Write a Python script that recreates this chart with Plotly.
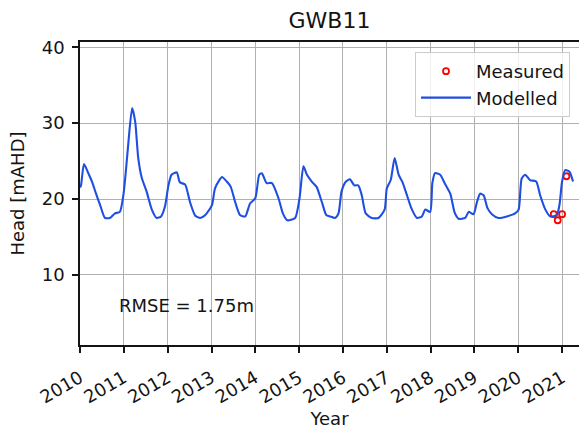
import pandas as pd
import plotly.graph_objects as go

# Modelled head (decimal year, mAHD)
model_year = [2010.000, 2010.023, 2010.091, 2010.19, 2010.28, 2010.36, 2010.46, 2010.57, 2010.68, 2010.80,
              2010.91, 2010.99, 2011.04, 2011.10, 2011.19, 2011.26, 2011.33, 2011.41, 2011.52, 2011.64,
              2011.75, 2011.85, 2011.94, 2012.02, 2012.09, 2012.21, 2012.28, 2012.40, 2012.51, 2012.63,
              2012.74, 2012.82, 2012.89, 2013.01, 2013.08, 2013.18, 2013.24, 2013.35, 2013.44, 2013.54,
              2013.65, 2013.77, 2013.88, 2014.00, 2014.09, 2014.15, 2014.26, 2014.38, 2014.53, 2014.63,
              2014.73, 2014.91, 2015.01, 2015.10, 2015.18, 2015.29, 2015.40, 2015.52, 2015.62, 2015.71,
              2015.82, 2015.90, 2015.97, 2016.07, 2016.16, 2016.26, 2016.35, 2016.43, 2016.52, 2016.66,
              2016.81, 2016.95, 2017.00, 2017.09, 2017.18, 2017.27, 2017.36, 2017.46, 2017.56, 2017.69,
              2017.80, 2017.88, 2017.99, 2018.04, 2018.10, 2018.22, 2018.32, 2018.45, 2018.55, 2018.64,
              2018.79, 2018.87, 2018.98, 2019.06, 2019.13, 2019.21, 2019.30, 2019.40, 2019.55, 2019.74,
              2019.93, 2020.01, 2020.08, 2020.16, 2020.27, 2020.41, 2020.50, 2020.62, 2020.73, 2020.88,
              2020.94, 2021.00, 2021.07, 2021.17, 2021.25]
model_head = [21.5, 21.8, 24.6, 23.4, 22.2, 20.8, 19.2, 17.5, 17.5, 18.1,
              18.3, 20.5, 23.2, 27.1, 32.0, 30.2, 25.4, 22.8, 21.0, 18.6,
              17.5, 17.7, 19.0, 21.8, 23.2, 23.5, 22.2, 21.9, 19.6, 17.8,
              17.5, 17.7, 18.1, 19.2, 21.4, 22.5, 22.9, 22.3, 21.6, 19.6,
              17.9, 17.7, 19.4, 20.1, 23.2, 23.4, 22.1, 22.1, 20.1, 18.1,
              17.2, 17.5, 20.1, 24.3, 23.2, 22.3, 21.6, 19.6, 17.9, 17.7,
              17.5, 18.1, 21.0, 22.3, 22.6, 21.8, 21.8, 20.5, 18.1, 17.5,
              17.5, 18.6, 21.4, 22.5, 25.4, 23.2, 22.2, 20.5, 18.8, 17.5,
              17.7, 18.6, 18.3, 22.1, 23.4, 23.2, 22.1, 20.7, 18.2, 17.4,
              17.5, 18.3, 18.0, 19.6, 20.7, 20.5, 18.8, 18.0, 17.5, 17.7,
              18.1, 18.6, 22.7, 23.2, 22.5, 22.3, 20.5, 18.6, 17.7, 17.9,
              19.2, 22.3, 23.8, 23.6, 22.3]

# Measured head
meas_year = [2020.81, 2020.90, 2021.00, 2021.10]
meas_head = [18.0, 17.2, 18.0, 23.0]

tick_years = list(range(2010, 2022))
tick_labels = [str(y) for y in tick_years]
rmse_text = "RMSE = 1.75m"


def to_date(years):
    out = []
    for y in years:
        yi = int(y)
        start = pd.Timestamp(year=yi, month=1, day=1)
        days = (pd.Timestamp(year=yi + 1, month=1, day=1) - start).days
        out.append(start + pd.Timedelta(days=(y - yi) * days))
    return out


FONT = "DejaVu Sans"
TXT = "#141414"
fig = go.Figure()
fig.add_trace(go.Scatter(x=to_date(meas_year), y=meas_head, mode="markers", name="Measured",
                         marker=dict(symbol="circle-open", color="#ff0000", size=6,
                                     line=dict(width=1.8, color="#ff0000"))))
fig.add_trace(go.Scatter(x=to_date(model_year), y=model_head, mode="lines", name="Modelled",
                         line=dict(color="#1f4fe0", width=2.1, shape="spline", smoothing=0.6)))

fig.add_annotation(text=rmse_text, xref="paper", yref="paper", x=0.214, y=0.132,
                   xanchor="center", yanchor="middle", showarrow=False,
                   font=dict(family=FONT, size=18, color=TXT))

fig.update_layout(
    width=579, height=432,
    margin=dict(l=80, r=0, t=42, b=87),
    paper_bgcolor="white", plot_bgcolor="white",
    font=dict(family=FONT, size=18, color=TXT),
    title=dict(text="GWB11", x=0.5, xref="paper", xanchor="center", y=1 - 20 / 432, yanchor="middle",
               yref="container", font=dict(family=FONT, size=22, color=TXT)),
    showlegend=True,
    legend=dict(x=0.982, y=0.967, xanchor="right", yanchor="top",
                bgcolor="rgba(255,255,255,0.8)", bordercolor="#cccccc", borderwidth=1,
                font=dict(family=FONT, size=18, color=TXT), itemwidth=50),
)
fig.update_xaxes(
    type="date", automargin=False,
    range=[pd.Timestamp("2010-01-01"), pd.Timestamp("2021-05-22")],
    tickmode="array", tickvals=[pd.Timestamp(year=y, month=1, day=1) for y in tick_years],
    ticktext=tick_labels, tickangle=-30, ticklabelstandoff=8,
    showgrid=True, gridcolor="#b0b0b0", gridwidth=1.3,
    showline=True, linecolor="#141414", linewidth=1.5, mirror=True,
    ticks="outside", ticklen=6, tickcolor="#141414", tickwidth=1.5,
    tickfont=dict(family=FONT, size=18, color=TXT),
    title=dict(text="Year", font=dict(family=FONT, size=18, color=TXT), standoff=4),
    zeroline=False,
)
fig.update_yaxes(
    range=[0.75, 40.7], automargin=False,
    tickvals=[10, 20, 30, 40], ticklabelstandoff=4,
    showgrid=True, gridcolor="#b0b0b0", gridwidth=1.3,
    showline=True, linecolor="#141414", linewidth=1.5,
    ticks="outside", ticklen=6, tickcolor="#141414", tickwidth=1.5,
    tickfont=dict(family=FONT, size=18, color=TXT),
    title=dict(text="Head [mAHD]", font=dict(family=FONT, size=18, color=TXT), standoff=12),
    zeroline=False,
)

fig.write_html("out.html", config={"displayModeBar": False},
               post_script="document.body.style.margin='0';document.body.style.overflow='hidden';")
